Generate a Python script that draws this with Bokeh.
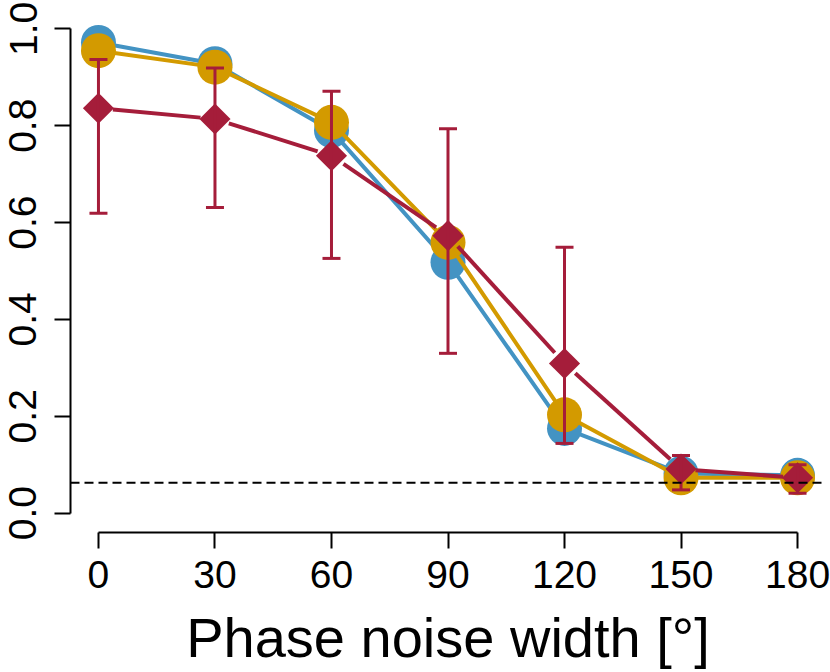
import math
from bokeh.plotting import figure
from bokeh.models import Range1d, Span, FixedTicker, PrintfTickFormatter
from bokeh.embed import file_html
from bokeh.resources import INLINE

# ---- data ----
angles = [0, 30, 60, 90, 120, 150, 180]
blue_vals = [0.972, 0.928, 0.790, 0.518, 0.175, 0.082, 0.078]
gold_vals = [0.955, 0.921, 0.807, 0.559, 0.203, 0.073, 0.073]
red_vals = [0.836, 0.814, 0.738, 0.573, 0.309, 0.091, 0.073]
red_hi = [0.937, 0.919, 0.871, 0.794, 0.549, 0.119, 0.100]
red_lo = [0.619, 0.631, 0.526, 0.330, 0.144, 0.048, 0.041]
chance_level = 0.0625
x_ticks = [0, 30, 60, 90, 120, 150, 180]
y_ticks = [0.0, 0.2, 0.4, 0.6, 0.8, 1.0]
x_label = "Phase noise width [°]"

BLUE = "#4393C3"
GOLD = "#D39A00"
RED = "#A51D3A"
FONT = "Liberation Sans"

XR = (-7.2, 187.2)
YR = (-0.04, 1.04)
FRAME_W = 755
FRAME_H = 523

p = figure(width=830, height=672, x_range=Range1d(*XR), y_range=Range1d(*YR),
           output_backend="svg", toolbar_location=None,
           min_border_left=70, min_border_right=5, min_border_top=9,
           min_border_bottom=140)
p.outline_line_color = None
p.xgrid.visible = False
p.ygrid.visible = False
p.background_fill_color = "white"
p.border_fill_color = "white"

# x axis
xa = p.xaxis[0]
xa.ticker = FixedTicker(ticks=x_ticks)
xa.bounds = (0, 180)
xa.axis_line_width = 2
xa.major_tick_line_width = 2
xa.major_tick_out = 16
xa.major_tick_in = 0
xa.minor_tick_out = 0
xa.minor_tick_in = 0
xa.major_label_text_font = FONT
xa.major_label_text_font_size = "39px"
xa.major_label_text_color = "black"
xa.major_label_standoff = 12
xa.axis_label = x_label
xa.axis_label_text_font = FONT
xa.axis_label_text_font_size = "56px"
xa.axis_label_text_font_style = "normal"
xa.axis_label_text_color = "black"
xa.axis_label_standoff = 15

# y axis
ya = p.yaxis[0]
ya.ticker = FixedTicker(ticks=y_ticks)
ya.formatter = PrintfTickFormatter(format="%.1f")
ya.bounds = (0, 1)
ya.axis_line_width = 2
ya.major_tick_line_width = 2
ya.major_tick_out = 16
ya.major_tick_in = 0
ya.minor_tick_out = 0
ya.minor_tick_in = 0
ya.major_label_text_font = FONT
ya.major_label_text_font_size = "39px"
ya.major_label_text_color = "black"
ya.major_label_orientation = "vertical"
ya.major_label_standoff = 18

# blue series
p.line(angles, blue_vals, line_color=BLUE, line_width=4)
p.scatter(angles, blue_vals, marker="circle", size=35, fill_color=BLUE, line_color=None)
# gold series
p.line(angles, gold_vals, line_color=GOLD, line_width=4)
p.scatter(angles, gold_vals, marker="circle", size=35, fill_color=GOLD, line_color=None)

# red series: line segments with gaps around the points (type="b")
sx = FRAME_W / (XR[1] - XR[0])
sy = FRAME_H / (YR[1] - YR[0])
gap = 14.5
x0s, y0s, x1s, y1s = [], [], [], []
for i in range(len(angles) - 1):
    xa0, ya0 = angles[i], red_vals[i]
    xa1, ya1 = angles[i + 1], red_vals[i + 1]
    L = math.hypot((xa1 - xa0) * sx, (ya1 - ya0) * sy)
    t = gap / L
    x0s.append(xa0 + t * (xa1 - xa0)); y0s.append(ya0 + t * (ya1 - ya0))
    x1s.append(xa1 - t * (xa1 - xa0)); y1s.append(ya1 - t * (ya1 - ya0))
p.segment(x0s, y0s, x1s, y1s, line_color=RED, line_width=4)
p.scatter(angles, red_vals, marker="square", angle=math.pi / 4, size=22,
          fill_color=RED, line_color=None)
# error bars
p.segment(angles, red_lo, angles, red_hi, line_color=RED, line_width=3)
p.scatter(angles, red_hi, marker="dash", size=18, line_color=RED, line_width=3)
p.scatter(angles, red_lo, marker="dash", size=18, line_color=RED, line_width=3)

# chance level
p.add_layout(Span(location=chance_level, dimension="width", line_color="black",
                  line_width=2, line_dash="9 5"))

open("out.html", "w").write(file_html(p, INLINE))
